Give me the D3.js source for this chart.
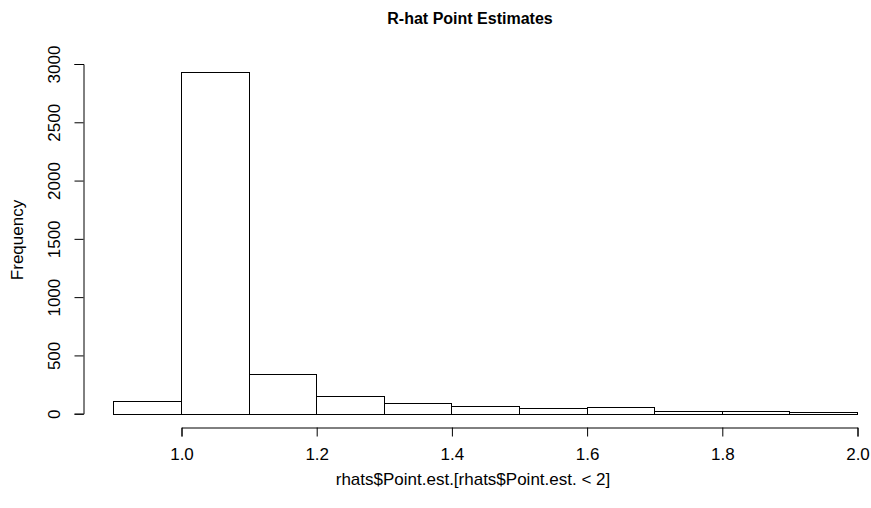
<!DOCTYPE html>
<html>
<head>
<meta charset="utf-8">
<script src="https://cdn.jsdelivr.net/npm/d3@7"></script>
<style>
    body { margin: 0; background: #fff; }
    svg { font-family: "Liberation Sans", Arial, sans-serif; }
</style>
</head>
<body>
<svg id="chart" width="871" height="508"></svg>
<script>
// 直方图的分箱边界和频数
let breaks = [0.9, 1.0, 1.1, 1.2, 1.3, 1.4, 1.5, 1.6, 1.7, 1.8, 1.9, 2.0];
let counts = [105, 2935, 338, 149, 89, 63, 51, 54, 26, 26, 17];
let xTicks = [1.0, 1.2, 1.4, 1.6, 1.8, 2.0];
let yTicks = [0, 500, 1000, 1500, 2000, 2500, 3000];

let svg = d3.select('#chart');

// 比例尺
let x = d3.scaleLinear().domain([1, 2]).range([181, 857]);
let y = d3.scaleLinear().domain([0, 3000]).range([413.7, 64]);

// 画柱子
let bins = counts.map((c, i) => ({x0: breaks[i], x1: breaks[i + 1], n: c}));
svg.append('g')
    .selectAll('rect')
    .data(bins)
    .enter()
    .append('rect')
    .attr('x', d => Math.round(x(d.x0)) + 0.5)
    .attr('y', d => Math.round(y(d.n)) + 0.5)
    .attr('width', d => Math.round(x(d.x1)) - Math.round(x(d.x0)))
    .attr('height', d => Math.round(y(0)) - Math.round(y(d.n)))
    .attr('fill', '#fff')
    .attr('stroke', '#000')
    .attr('stroke-width', 1);

// x 轴
let gx = svg.append('g')
    .attr('transform', 'translate(0.5,427.5)')
    .call(d3.axisBottom(x).tickValues(xTicks).tickSize(9).tickSizeOuter(9)
        .tickFormat(d3.format('.1f')));
gx.selectAll('text').attr('dy', 0).attr('y', 32).attr('font-size', 17)
    .attr('font-family', null).attr('fill', '#000');

// y 轴
let gy = svg.append('g')
    .attr('transform', 'translate(83.5,0)')
    .call(d3.axisLeft(y).tickValues(yTicks).tickSize(9).tickSizeOuter(9)
        .tickFormat(d3.format('d')));
gy.selectAll('text')
    .attr('x', null).attr('dy', 0).attr('y', null)
    .attr('transform', 'translate(-23.5,0) rotate(-90)')
    .attr('text-anchor', 'middle')
    .attr('font-size', 17)
    .attr('font-family', null).attr('fill', '#000');

svg.selectAll('.domain, .tick line').attr('stroke', '#000');

// 标题和轴标签
svg.append('text')
    .attr('x', 470).attr('y', 24.3)
    .attr('text-anchor', 'middle')
    .attr('font-size', 16).attr('font-weight', 'bold')
    .text('R-hat Point Estimates');

svg.append('text')
    .attr('x', 473).attr('y', 485)
    .attr('text-anchor', 'middle')
    .attr('font-size', 17)
    .text('rhats$Point.est.[rhats$Point.est. < 2]');

svg.append('text')
    .attr('transform', 'translate(23,240) rotate(-90)')
    .attr('text-anchor', 'middle')
    .attr('font-size', 17)
    .text('Frequency');
</script>
</body>
</html>
